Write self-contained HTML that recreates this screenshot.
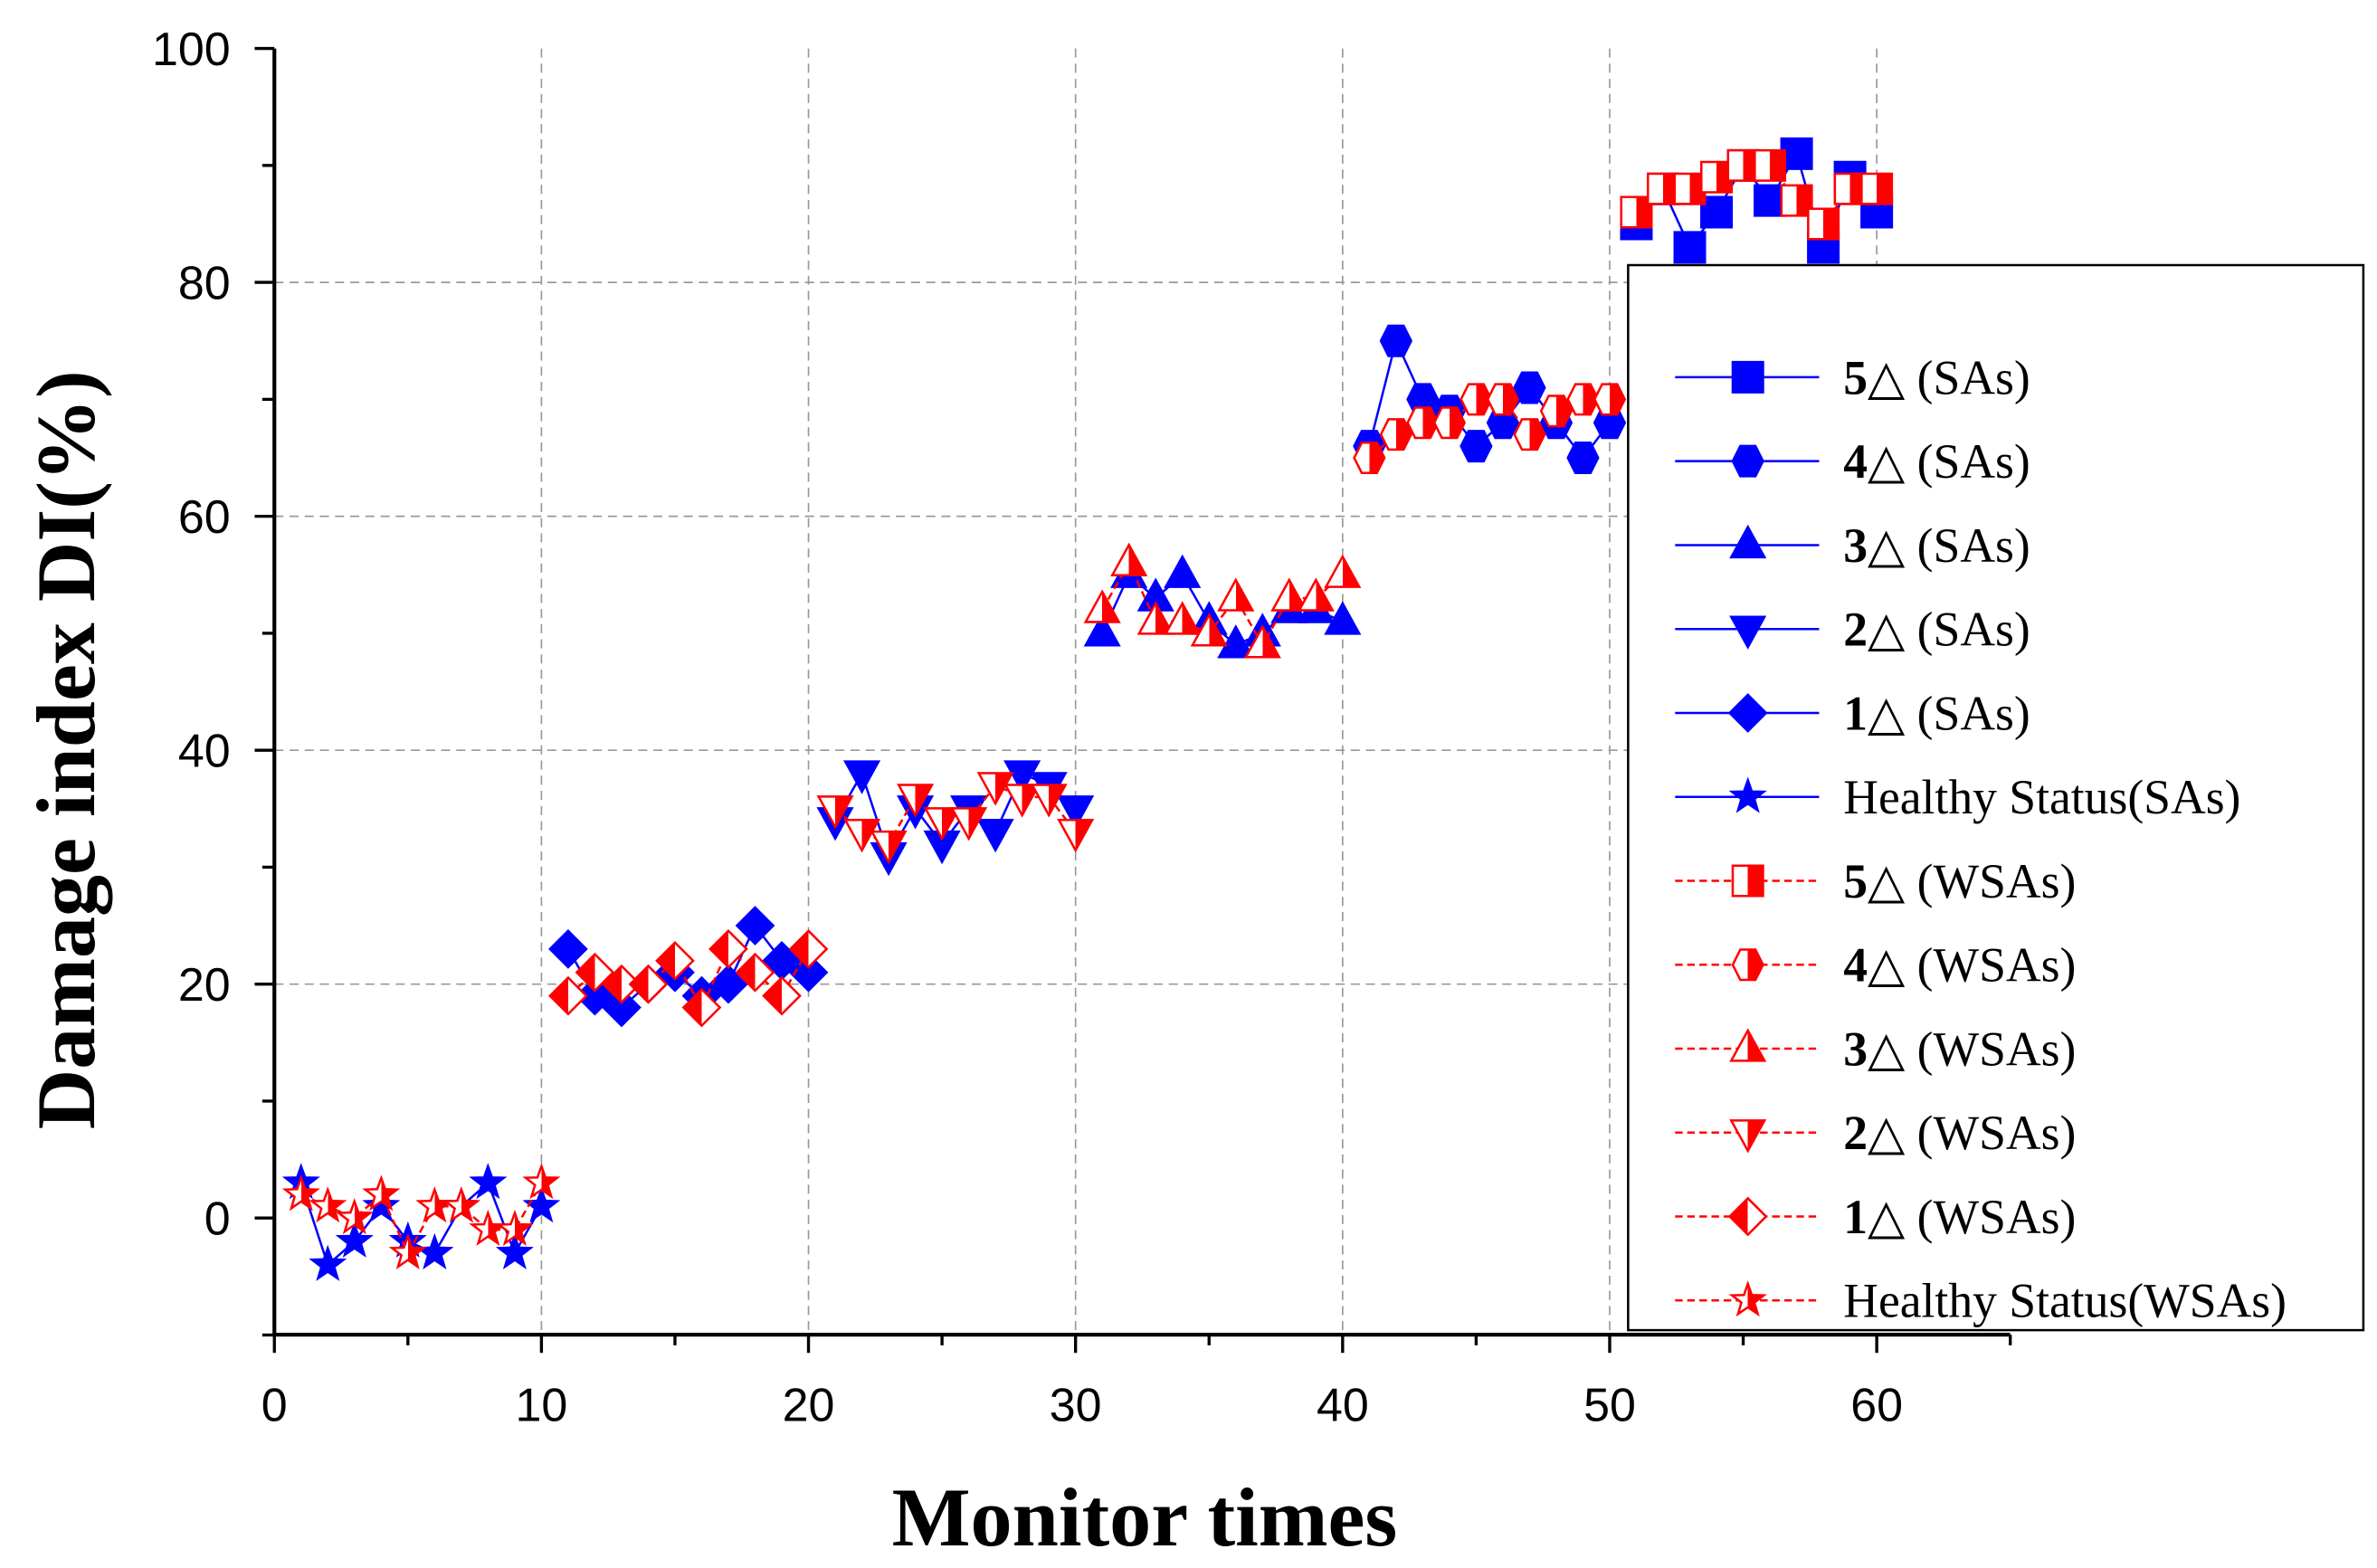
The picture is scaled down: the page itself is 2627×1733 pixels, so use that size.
<!DOCTYPE html>
<html><head><meta charset="utf-8"><style>html,body{margin:0;padding:0;background:#fff}svg{display:block}</style></head>
<body>
<svg id="chart" width="2627" height="1733" viewBox="0 0 1568 1035" preserveAspectRatio="none" xmlns="http://www.w3.org/2000/svg">
<defs>
<linearGradient id="half" x1="0" x2="1" y1="0" y2="0"><stop offset="0.5" stop-color="#fff"/><stop offset="0.5" stop-color="#f00"/></linearGradient>
<linearGradient id="halfL" x1="0" x2="1" y1="0" y2="0"><stop offset="0.5" stop-color="#f00"/><stop offset="0.5" stop-color="#fff"/></linearGradient>
</defs>
<g id="grid"></g><g id="axes"></g><g id="series"></g><g id="legend"></g>
</svg>
<script>
const seriesNames=["Healthy Status","1△","2△","3△","4△","5△"];
const saHealthy=[3,-4,-2,1,-2,-3,1,3,-3,1];
const wsaHealthy=[2,1,0,2,-3,1,1,-1,-1,3];
const sa1=[23,19,18,20,21,19,20,25,22,21];
const wsa1=[19,21,20,20,22,18,23,21,19,23];
const sa2=[34,38,31,35,32,35,33,38,37,35];
const wsa2=[35,33,32,36,34,34,37,36,36,33];
const sa3=[50,55,53,55,51,49,50,52,52,51];
const wsa3=[52,56,51,51,50,53,49,53,53,55];
const sa4=[66,75,70,69,66,68,71,68,65,68];
const wsa4=[65,67,68,68,70,70,67,69,70,70];
const sa5=[85,88,83,86,90,87,91,83,89,86];
const wsa5=[86,88,88,89,90,90,87,85,88,88];
const xTicks=[0,10,20,30,40,50,60];
const yTicks=[0,20,40,60,80,100];
const legendLabels=["5△ (SAs)","4△ (SAs)","3△ (SAs)","2△ (SAs)","1△ (SAs)","Healthy Status(SAs)","5△ (WSAs)","4△ (WSAs)","3△ (WSAs)","2△ (WSAs)","1△ (WSAs)","Healthy Status(WSAs)"];

const NS="http://www.w3.org/2000/svg";
const X=v=>181+v*(1238-181)/60;
const Y=v=>804-v*(804-32)/100;
function mk(tag,attrs,parent){const e=document.createElementNS(NS,tag);for(const k in attrs)e.setAttribute(k,attrs[k]);parent.appendChild(e);return e;}
const grid=document.getElementById('grid'),axes=document.getElementById('axes'),ser=document.getElementById('series'),leg=document.getElementById('legend');
const SERIF='"Liberation Serif","DejaVu Serif",serif',SANS='"Liberation Sans",sans-serif';

xTicks.forEach(t=>{ if(t>0){const l=mk('line',{x1:X(t),x2:X(t),y1:32,y2:881,stroke:'#999','stroke-dasharray':'6,4','stroke-width':1},grid);

}
const tk=mk('line',{x1:X(t),x2:X(t),y1:881,y2:893,stroke:'#000','stroke-width':2},axes);


const tx=mk('text',{x:X(t),y:938,'text-anchor':'middle','font-family':SANS,'font-size':31},axes);tx.textContent=t;


if(t<65){const m=mk('line',{x1:X(t+5),x2:X(t+5),y1:881,y2:888,stroke:'#000','stroke-width':2},axes);

}
});
yTicks.forEach(t=>{ if(t>0&&t<100){const l=mk('line',{x1:181,x2:1326,y1:Y(t),y2:Y(t),stroke:'#999','stroke-dasharray':'6,4','stroke-width':1},grid);

}
const tk=mk('line',{x1:168,x2:181,y1:Y(t),y2:Y(t),stroke:'#000','stroke-width':2},axes);


const tx=mk('text',{x:152,y:Y(t)+11,'text-anchor':'end','font-family':SANS,'font-size':31},axes);tx.textContent=t;


const m=mk('line',{x1:173,x2:181,y1:Y(t-10),y2:Y(t-10),stroke:'#000','stroke-width':2},axes);


});
const ax1=mk('line',{x1:181,x2:181,y1:32,y2:882,stroke:'#000','stroke-width':2.5},axes);


const ax2=mk('line',{x1:180,x2:1326,y1:881,y2:881,stroke:'#000','stroke-width':2.5},axes);


const xt=mk('text',{x:755,y:1020,'text-anchor':'middle','font-family':SERIF,'font-size':55,'font-weight':'bold'},axes);xt.textContent='Monitor times';


const yt=mk('text',{x:0,y:0,'text-anchor':'middle','font-family':SERIF,'font-size':55,'font-weight':'bold',transform:'translate(62,495) rotate(-90)'},axes);yt.textContent='Damage index DI(%)';



function marker(type,cx,cy,blue,parent){const r=10;let d;
 if(type==='square')d=`M${cx-r},${cy-r}h${2*r}v${2*r}h${-2*r}z`;
 else if(type==='hex')d=`M${cx-r},${cy}L${cx-r/2},${cy-r}L${cx+r/2},${cy-r}L${cx+r},${cy}L${cx+r/2},${cy+r}L${cx-r/2},${cy+r}z`;
 else if(type==='up')d=`M${cx},${cy-r-2}L${cx+r+1},${cy+r-2}L${cx-r-1},${cy+r-2}z`;
 else if(type==='down')d=`M${cx},${cy+r+2}L${cx+r+1},${cy-r+2}L${cx-r-1},${cy-r+2}z`;
 else if(type==='diamond')d=`M${cx},${cy-r-2}L${cx+r+2},${cy}L${cx},${cy+r+2}L${cx-r-2},${cy}z`;
 else{let p=[];for(let i=0;i<10;i++){const a=-Math.PI/2+i*Math.PI/5,rr=i%2?r*0.45:r*1.1;p.push((cx+rr*Math.cos(a)).toFixed(1)+','+(cy+rr*Math.sin(a)).toFixed(1));}d='M'+p.join('L')+'z';}
 const fill=blue?'#00f':(type==='diamond'?'url(#halfL)':'url(#half)');
 return mk('path',{d,fill,stroke:blue?'#00f':'#f00','stroke-width':1.5},parent);}

const types=['star','diamond','down','up','hex','square'];
const sa=[saHealthy,sa1,sa2,sa3,sa4,sa5],wsa=[wsaHealthy,wsa1,wsa2,wsa3,wsa4,wsa5];
[[sa,true],[wsa,false]].forEach(([set,blue])=>{
 set.forEach((vals,s)=>{const g=mk('g',{},ser);
  
  
  const pts=vals.map((v,i)=>X(s*10+i+1)+','+Y(v)).join(' ');
  const pl=mk('polyline',{points:pts,fill:'none',stroke:blue?'#00f':'#f00','stroke-width':1.5,'stroke-dasharray':blue?'none':'5,3'},g);
  
  
  vals.forEach((v,i)=>{const m=marker(types[s],X(s*10+i+1),Y(v),blue,g);
   
   });
 });
});

const box=mk('rect',{x:1074,y:175,width:485,height:703,fill:'#fff',stroke:'#000','stroke-width':1.5},leg);


const ltypes=['square','hex','up','down','diamond','star'];
legendLabels.forEach((lab,i)=>{const y=249+i*55.4,blue=i<6;const g=mk('g',{},leg);
 
 
 mk('line',{x1:1105,x2:1200,y1:y,y2:y,stroke:blue?'#00f':'#f00','stroke-width':1.5,'stroke-dasharray':blue?'none':'5,3'},g);
 marker(ltypes[i%6],1153,y,blue,g);
 const t=mk('text',{x:1216,y:y+11,'font-family':SERIF,'font-size':32},g);
 if(/^\d/.test(lab)){const b=mk('tspan',{'font-weight':'bold'},t);b.textContent=lab.slice(0,2);const r=mk('tspan',{},t);r.textContent=lab.slice(2);}
 else t.textContent=lab;
});
</script>
</body></html>
